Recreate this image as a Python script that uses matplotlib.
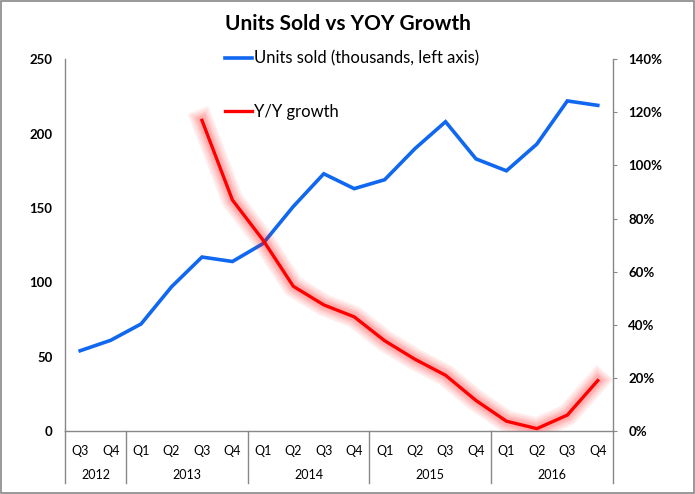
import matplotlib.pyplot as plt
import matplotlib.patheffects as pe
from matplotlib.lines import Line2D
from matplotlib.ticker import FuncFormatter

plt.rcParams['font.family'] = ['Lato', 'DejaVu Sans']

quarters = ['Q3', 'Q4',
            'Q1', 'Q2', 'Q3', 'Q4',
            'Q1', 'Q2', 'Q3', 'Q4',
            'Q1', 'Q2', 'Q3', 'Q4',
            'Q1', 'Q2', 'Q3', 'Q4']
years = ['2012', '2013', '2014', '2015', '2016']
year_counts = [2, 4, 4, 4, 4]

units_sold = [54, 61, 72, 97, 117, 114, 126, 151, 173, 163, 169, 190, 208, 183, 175, 193, 222, 219]
yoy_growth = [None, None, None, None, 117, 87, 72, 54.5, 47.5, 43, 34, 27, 21, 11.5, 3.7, 0.9, 6, 19]

x = list(range(len(quarters)))

fig = plt.figure(figsize=(6.95, 4.94), dpi=100)
ax = fig.add_axes([0.0935, 0.1275, 0.7885, 0.7525])
ax2 = ax.twinx()

ax.plot(x, units_sold, color='#1068F0', lw=2.6, solid_joinstyle='miter', zorder=3,
        label='Units sold (thousands, left axis)')

gx = [xi for xi, g in zip(x, yoy_growth) if g is not None]
gy = [g for g in yoy_growth if g is not None]
glow = [pe.Stroke(linewidth=w, foreground='red', alpha=0.07) for w in (16, 13, 10, 8, 6)]
ax2.plot(gx, gy, color='#FF0000', lw=2.4, zorder=2, label='Y/Y growth',
         path_effects=glow + [pe.Normal()])

ax.set_xlim(-0.5, len(x) - 0.5)
ax.set_ylim(0, 250)
ax.set_yticks(range(0, 251, 50))
ax2.set_ylim(0, 140)
ax2.set_yticks(range(0, 141, 20))
ax2.yaxis.set_major_formatter(FuncFormatter(lambda v, p: f'{int(v)}%'))

for a in (ax, ax2):
    for s in a.spines.values():
        s.set_visible(False)
ax.spines['left'].set_visible(True)
ax.spines['bottom'].set_visible(True)
ax2.spines['right'].set_visible(True)
for s in (ax.spines['left'], ax.spines['bottom'], ax2.spines['right']):
    s.set_color('#888888')
    s.set_linewidth(1)

ax.tick_params(axis='y', length=0, pad=9)
for lab in ax.get_yticklabels():
    lab.set_fontweight('bold')
    lab.set_fontsize(9.5)
ax2.tick_params(axis='y', length=3, color='#888888', pad=8)
for lab in ax2.get_yticklabels():
    lab.set_fontweight('bold')
    lab.set_fontsize(9.5)

ax.set_xticks(x)
ax.set_xticklabels(quarters, fontsize=9)
ax.tick_params(axis='x', length=0, pad=10)

# year labels and separators below axis
tr = ax.get_xaxis_transform()
start = 0
bounds = [-0.5]
for yr, n in zip(years, year_counts):
    mid = start + (n - 1) / 2
    ax.text(mid, -0.118, yr, transform=tr, ha='center', va='center', fontsize=9)
    start += n
    bounds.append(start - 0.5)
for b in bounds:
    ax.add_line(Line2D([b, b], [0, -0.14], transform=tr, color='#888888', lw=1, clip_on=False))

fig.text(0.5, 0.952, 'Units Sold vs YOY Growth', ha='center', va='center',
         fontsize=15, fontweight='bold')

h1, l1 = ax.get_legend_handles_labels()
h2, l2 = ax2.get_legend_handles_labels()
leg_handles = [Line2D([], [], color='#1068F0', lw=2.6), Line2D([], [], color='#FF0000', lw=2.4)]
fig.legend(leg_handles, l1 + l2, loc='upper left', bbox_to_anchor=(0.312, 0.915),
           frameon=False, fontsize=12, handlelength=1.6, handletextpad=0.1,
           labelspacing=2.25, borderpad=0)

fig.patches.append(plt.Rectangle((0.001, 0.002), 0.997, 0.996, transform=fig.transFigure,
                                 fill=False, edgecolor='#888888', lw=1.2))

fig.savefig('out.png', dpi=100)
